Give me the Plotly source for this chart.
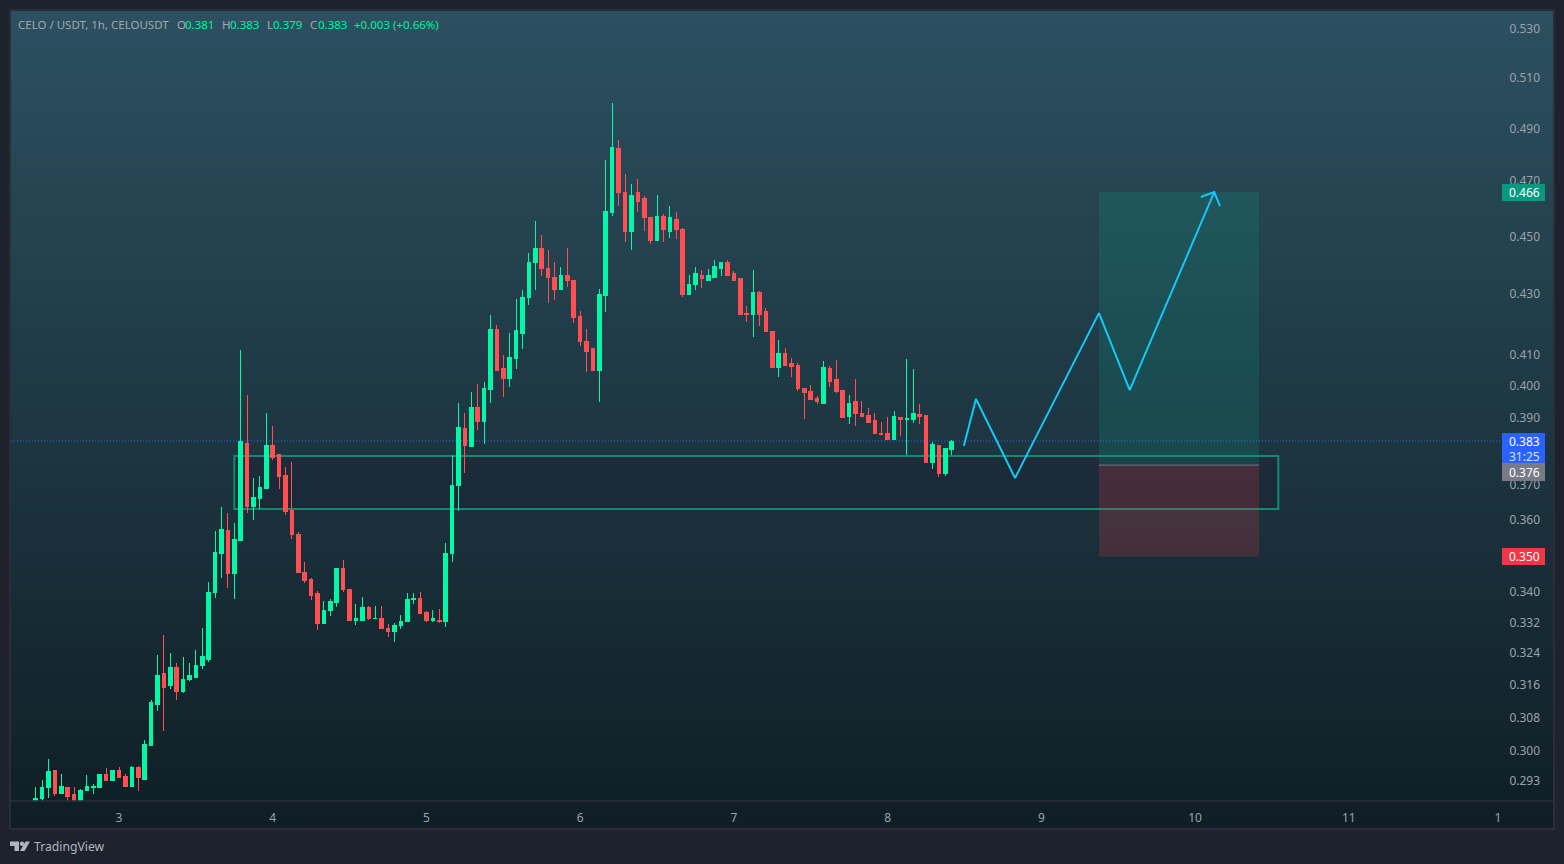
import math
import plotly.graph_objects as go

# Hourly CELO/USDT candles, prices
open_ = [.2879,.2889,.2914,.2953,.2900,.2916,.2898,.2879,.2907,.2916,.2916,.2946,.2932,.2953,.2941,.2918,.2962,.2934,.3014,.3111,.3190,.3158,.3203,.3143,
         .3173,.3180,.3208,.3225,.3398,.3506,.3568,.3449,.3540,.3821,.3636,.3659,.3688,.3815,.3788,.3726,.3627,.3559,.3452,.3433,.3395,.3318,.3350,.3371,
         .3463,.3406,.3326,.3326,.3360,.3329,.3331,.3305,.3295,.3313,.3321,.3379,.3382,.3345,.3324,.3326,.3321,.3504,.3699,.3869,.3812,.3934,.3888,.3990,
         .4183,.4054,.4022,.4086,.4170,.4290,.4407,.4459,.4386,.4358,.4317,.4362,.4348,.4226,.4144,.4118,.4050,.4294,.4584,.4821,.4657,.4519,.4657,.4635,
         .4569,.4484,.4573,.4519,.4562,.4526,.4300,.4334,.4365,.4348,.4358,.4386,.4410,.4369,.4352,.4236,.4233,.4304,.4240,.4174,.4057,.4105,.4070,.4066,
         .3993,.3981,.3962,.3946,.4054,.4019,.3984,.3906,.3950,.3915,.3909,.3891,.3854,.3854,.3836,.3903,.3894,.3894,.3912,.3909,.3767,.3815,.3732,.3803]
high = [.2916,.2932,.2981,.2955,.2946,.2916,.2916,.2911,.2944,.2923,.2946,.2960,.2955,.2962,.2946,.2965,.2965,.3026,.3123,.3236,.3287,.3241,.3215,.3231,
        .3215,.3248,.3305,.3427,.3568,.3636,.3619,.3590,.4115,.3971,.3720,.3726,.3915,.3876,.3788,.3752,.3767,.3565,.3482,.3438,.3403,.3376,.3382,.3465,
        .3487,.3408,.3368,.3387,.3363,.3363,.3363,.3316,.3318,.3339,.3398,.3398,.3400,.3350,.3352,.3355,.3534,.3788,.3946,.3915,.3981,.4006,.4012,.4230,
        .4197,.4099,.4170,.4283,.4314,.4442,.4555,.4505,.4452,.4410,.4393,.4459,.4348,.4243,.4183,.4121,.4317,.4779,.4999,.4855,.4727,.4690,.4708,.4646,
        .4569,.4649,.4580,.4609,.4587,.4530,.4365,.4393,.4382,.4386,.4417,.4410,.4417,.4379,.4352,.4260,.4382,.4311,.4253,.4174,.4147,.4121,.4089,.4073,
        .3993,.4003,.3968,.4079,.4063,.4082,.3987,.3971,.4022,.3953,.3931,.3915,.3888,.3903,.3922,.3903,.4086,.4054,.3943,.3909,.3827,.3815,.3809,.3833]
low = [.2875,.2884,.2891,.2895,.2900,.2884,.2875,.2875,.2907,.2900,.2916,.2930,.2932,.2939,.2918,.2918,.2907,.2932,.3014,.3096,.3048,.3150,.3123,.3140,
       .3170,.3180,.3200,.3218,.3384,.3438,.3411,.3382,.3540,.3619,.3599,.3630,.3688,.3773,.3688,.3613,.3545,.3452,.3425,.3379,.3300,.3318,.3337,.3360,
       .3400,.3324,.3313,.3326,.3326,.3329,.3303,.3282,.3269,.3303,.3321,.3368,.3342,.3321,.3321,.3318,.3308,.3482,.3624,.3735,.3812,.3863,.3821,.3946,
       .4050,.3965,.3996,.4054,.4118,.4263,.4314,.4362,.4270,.4280,.4314,.4324,.4203,.4128,.4044,.4050,.3950,.4240,.4573,.4609,.4480,.4452,.4587,.4519,
       .4473,.4484,.4480,.4494,.4491,.4290,.4297,.4314,.4321,.4348,.4358,.4362,.4365,.4348,.4230,.4207,.4157,.4193,.4174,.4057,.4028,.4066,.4028,.3984,
       .3897,.3956,.3943,.3946,.3996,.3978,.3903,.3882,.3876,.3903,.3885,.3851,.3848,.3833,.3836,.3845,.3788,.3885,.3882,.3767,.3746,.3723,.3726,.3788]
close = [.2890,.2916,.2951,.2900,.2918,.2895,.2879,.2909,.2918,.2918,.2944,.2930,.2953,.2939,.2918,.2962,.2937,.3016,.3116,.3185,.3153,.3203,.3143,.3175,
         .3183,.3210,.3231,.3400,.3509,.3571,.3449,.3543,.3827,.3636,.3662,.3691,.3815,.3782,.3723,.3624,.3557,.3452,.3430,.3392,.3318,.3352,.3376,.3463,
         .3406,.3324,.3329,.3360,.3329,.3331,.3303,.3295,.3313,.3321,.3379,.3382,.3342,.3324,.3329,.3321,.3504,.3699,.3872,.3815,.3931,.3888,.3993,.4183,
         .4050,.4022,.4092,.4177,.4290,.4410,.4456,.4386,.4358,.4317,.4365,.4345,.4223,.4141,.4111,.4050,.4300,.4591,.4825,.4657,.4519,.4649,.4627,.4566,
         .4487,.4573,.4523,.4566,.4523,.4300,.4334,.4369,.4352,.4362,.4393,.4410,.4365,.4348,.4230,.4233,.4307,.4233,.4174,.4057,.4105,.4066,.4060,.3993,
         .3978,.3956,.3950,.4057,.4015,.3981,.3903,.3946,.3915,.3906,.3885,.3854,.3851,.3836,.3906,.3894,.3897,.3915,.3906,.3767,.3818,.3732,.3806,.3827]
hours = list(range(len(open_)))

price_ticks = [0.530, 0.510, 0.490, 0.470, 0.450, 0.430, 0.410, 0.400, 0.390, 0.370, 0.360,
               0.340, 0.332, 0.324, 0.316, 0.308, 0.300, 0.293]
time_ticks = [13, 37, 61, 85, 109, 133, 157, 181, 205, 228.3]
time_labels = ["3", "4", "5", "6", "7", "8", "9", "10", "11", "1"]

path_x = [144.9, 146.8, 152.9, 166.0, 170.8, 184.0]
path_y = [0.3815, 0.3959, 0.3720, 0.4236, 0.3987, 0.4660]
arrow_x = [181.9, 184.0, 184.9]
arrow_y = [0.4642, 0.4660, 0.4609]

zone_x = [31, 194]
zone_y = [0.3630, 0.3785]
position_x = [166, 191]
target_price, entry_price, stop_price = 0.466, 0.3758, 0.3497
last_price = 0.383

W, H = 1564, 864
L_, R_, T_, B_ = 11, 1500, 11, 801
px = lambda x: (x - L_) / (R_ - L_)
py = lambda y: (B_ - y) / (B_ - T_)
FONT = "Noto Sans"

shapes = []
# panel gradient
STEP = 6
y = 11
while y < 829:
    f = min(1, max(0, (y + STEP / 2 - 12) / 815))
    col = (round(44 + (15 - 44) * f), round(80 + (30 - 80) * f), round(96 + (37 - 96) * f))
    shapes.append(dict(type="rect", xref="paper", yref="paper", layer="below",
                       x0=px(11), x1=px(1553), y0=py(min(829, y + STEP + 1)), y1=py(y),
                       fillcolor=f"rgb{col}", line_width=0))
    y += STEP
# zone and position tool
shapes += [
    dict(type="rect", xref="x", yref="y", layer="below", x0=zone_x[0], x1=zone_x[1], y0=zone_y[0], y1=zone_y[1],
         fillcolor="rgba(32,10,40,0.2)", line=dict(color="#14896f", width=2)),
    dict(type="rect", xref="x", yref="y", layer="below", x0=position_x[0], x1=position_x[1], y0=entry_price, y1=target_price,
         fillcolor="rgba(8,153,129,0.2)", line_width=0),
    dict(type="rect", xref="x", yref="y", layer="below", x0=position_x[0], x1=position_x[1], y0=stop_price, y1=entry_price,
         fillcolor="rgba(242,54,69,0.2)", line_width=0),
    dict(type="line", xref="x", yref="y", layer="below", x0=position_x[0], x1=position_x[1], y0=entry_price, y1=entry_price,
         line=dict(color="#787b86", width=1)),
    dict(type="line", xref="paper", yref="y", layer="below", x0=0, x1=1, y0=last_price, y1=last_price,
         line=dict(color="#2962ff", width=1, dash="1px,2px")),
    dict(type="line", xref="paper", yref="paper", layer="above", x0=px(11), x1=px(1553), y0=0, y1=0,
         line=dict(color="#2a2e39", width=1.5)),
    dict(type="rect", xref="paper", yref="paper", layer="above", x0=px(10), x1=px(1554), y0=py(829), y1=py(10),
         line=dict(color="#2a2e39", width=2)),
]
# price badges
badges = [
    (184, 201, "#089981", "0.466"),
    (433, 463, "#2962ff", "0.383"),
    (463, 481, "#787b86", "0.376"),
    (548, 565, "#f23645", "0.350"),
]
annotations = []
for y0, y1, c, t in badges:
    shapes.append(dict(type="rect", xref="paper", yref="paper", layer="above", x0=px(1502), x1=px(1545),
                       y0=py(y1), y1=py(y0), fillcolor=c, line_width=0))
    yc = (y0 + y1) / 2 if t != "0.383" else 441
    annotations.append(dict(x=px(1524), y=py(yc), text=t, font=dict(color="white", size=12, family=FONT)))
annotations.append(dict(x=px(1524), y=py(456), text="31:25", font=dict(color="#d6e0ff", size=12, family=FONT)))

# logo
logo = "#b2b5be"
def poly(pts):
    return "M " + " L ".join(f"{px(a)},{py(b)}" for a, b in pts) + " Z"
shapes += [
    dict(type="path", xref="paper", yref="paper", path=poly([(10, 841.5), (19, 841.5), (19, 851), (14.5, 851), (14.5, 846), (10, 846)]),
         fillcolor=logo, line_width=0),
    dict(type="path", xref="paper", yref="paper", path=poly([(25.5, 841.5), (30, 841.5), (24.5, 851), (20, 851)]),
         fillcolor=logo, line_width=0),
    dict(type="circle", xref="paper", yref="paper", x0=px(19.8), x1=px(24.2), y0=py(846), y1=py(841.6), fillcolor=logo, line_width=0),
]
annotations.append(dict(x=px(33), y=py(846.5), xanchor="left", text="TradingView",
                        font=dict(color="#b2b5be", size=12.2, family=FONT)))

# header segments
GREY, GREEN = "#a3a8b0", "#00f0a0"
header = [
    (17, "CELO / USDT, 1h, CELOUSDT", GREY), (176, "O", GREY), (184, "0.381", GREEN), (221, "H", GREY),
    (229, "0.383", GREEN), (266, "L", GREY), (272, "0.379", GREEN), (309, "C", GREY),
    (317, "0.383", GREEN), (353, "+0.003 (+0.66%)", GREEN),
]
for x, t, c in header:
    annotations.append(dict(x=px(x), y=py(25), xanchor="left", text=t, font=dict(color=c, size=11.5, family=FONT)))
for a in annotations:
    a.update(xref="paper", yref="paper", showarrow=False, yanchor="middle", borderpad=0)
    a.setdefault("xanchor", "center")

fig = go.Figure()
fig.add_trace(go.Candlestick(
    x=hours, open=open_, high=high, low=low, close=close, whiskerwidth=0,
    increasing=dict(line=dict(color="#00f8a6", width=1), fillcolor="#00f8a6"),
    decreasing=dict(line=dict(color="#ff4f52", width=1), fillcolor="#ff4f52"),
    hoverinfo="skip", showlegend=False,
))
fig.add_trace(go.Scatter(x=path_x, y=path_y, mode="lines", line=dict(color="#14c8f5", width=2), hoverinfo="skip", showlegend=False))
fig.add_trace(go.Scatter(x=arrow_x, y=arrow_y, mode="lines", line=dict(color="#14c8f5", width=2), hoverinfo="skip", showlegend=False))

x_lo = 13 + (L_ - 119) / 6.405
x_hi = 13 + (R_ - 119) / 6.405
y_hi = math.log10(last_price * math.exp((441 - T_) / 1269))
y_lo = math.log10(last_price * math.exp((441 - B_) / 1269))
fig.update_layout(
    width=W, height=H, autosize=False,
    margin=dict(l=L_, r=W - R_, t=T_, b=H - B_, pad=0),
    paper_bgcolor="#1e222d", plot_bgcolor="rgba(0,0,0,0)",
    boxgap=0.2, showlegend=False, shapes=shapes, annotations=annotations,
    xaxis=dict(range=[x_lo, x_hi], rangeslider_visible=False, showgrid=False, zeroline=False, showline=False,
               tickmode="array", tickvals=time_ticks, ticktext=time_labels, ticks="outside", ticklen=6,
               tickcolor="rgba(0,0,0,0)", tickfont=dict(color="#9ca1aa", size=12, family=FONT)),
    yaxis=dict(type="log", side="right", range=[y_lo, y_hi], showgrid=False, zeroline=False, showline=False,
               tickmode="array", tickvals=price_ticks, ticktext=[f"{v:.3f}" for v in price_ticks],
               ticks="outside", ticklen=6, tickcolor="rgba(0,0,0,0)", tickfont=dict(color="#9ca1aa", size=12, family=FONT)),
)
fig.write_html(
    "out.html",
    config={"displayModeBar": False},
    post_script=(
        "document.body.style.margin='0';document.body.style.overflow='hidden';"
        "document.querySelectorAll('.boxes path').forEach(function(p){p.style.shapeRendering='crispEdges';});"
    ),
)
